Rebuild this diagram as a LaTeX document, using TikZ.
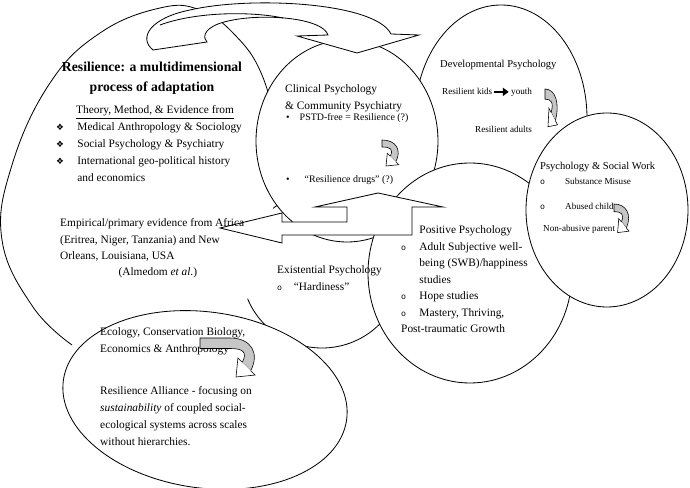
\documentclass[tikz,border=0pt]{standalone}
\usepackage{fontspec}
\setmainfont{Liberation Serif}
\newfontfamily\symfont{DejaVu Sans}
\newfontfamily\monofont{Liberation Mono}
\usepackage{tikz}
\usetikzlibrary{arrows.meta}
\newcommand{\fourdia}{{\symfont\fontsize{7.5}{7.5}\selectfont ❖}}
\newcommand{\ringbul}{{\monofont\fontsize{7}{7}\selectfont o}}
\tikzset{
  blob/.style={
    draw=black,
    line width=0.7pt,
    fill=white
  },
  rim/.style={
    draw=black, line width=0.7pt
  },
  bigarrow/.style={
    draw=black, line width=0.7pt, fill=white,
    line join=miter
  },
  body/.style={
    font=\fontsize{9.7}{14.5}\selectfont,
    inner sep=0pt, anchor=base west
  },
  head/.style={
    font=\fontsize{9}{12}\selectfont,
    inner sep=0pt, anchor=base west
  },
  small/.style={
    font=\fontsize{7.8}{10}\selectfont,
    inner sep=0pt, anchor=base west
  },
  kidarrow/.style={
    -{Triangle[length=5pt,width=7pt]},
    line width=1.8pt,
    shorten <=1.5pt, shorten >=2pt
  },
  pics/turn arrow/.style={code={
    \filldraw[fill=gray!45, line width=0.5pt] (-#1,0) -- (0,0)
      .. controls (14,0) and (20,10) .. (13.8,21.8) -- (8.2,16.2)
      .. controls (12,9) and (8,7) .. (0,7) -- (-#1,7) -- cycle;
    \filldraw[fill=white, line width=0.5pt] (13.8,21.8) -- (16.7,24.7)
      -- (4,26) -- (5.3,13.3) -- (8.2,16.2);
  }}
}

\begin{document}
\begin{tikzpicture}[x=0.03cm, y=-0.03cm]
  \useasboundingbox (0,0) rectangle (690,488);

  % Existential balloon (behind the rest)
  \draw[blob] (322,270) ellipse [x radius=80, y radius=78];

  % Outer balloon: white body, outline only where it shows
  \fill[white] plot[smooth cycle, tension=0.7] coordinates {
    (2,240) (12,165) (50,83) (100,33) (160,8) (200,10) (235,35)
    (262,75) (280,140) (272,215) (262,262) (248,298) (205,345) (130,370)
    (72,345) (33,307)};
  \draw[rim] plot[smooth, tension=0.7] coordinates {
    (72,345) (33,307) (2,240) (12,165) (50,83) (100,33) (160,8)
    (200,10) (235,35) (262,75) (280,140)};

  % Balloons
  \draw[blob] (501,118) ellipse [x radius=86, y radius=113];
  \draw[blob] (347,141) ellipse [x radius=91, y radius=101];
  \draw[blob] (470,273) ellipse [x radius=102, y radius=110];
  \draw[blob] (607,210) ellipse [x radius=81, y radius=97];
  \draw[blob, rotate around={-8:(205,400)}] (205,400) ellipse [x radius=143, y radius=88];

  % Curved arrow on top
  \draw[bigarrow] (153,50) .. controls (138,38) and (150,18) .. (190,10)
    .. controls (250,-4) and (375,2) .. (391,34) -- (419,35) -- (357,53)
    -- (297,36) -- (328,35) .. controls (322,16) and (250,12) .. (218,24)
    .. controls (203,30) and (203,38) .. (207,42) -- cycle;
  \draw[rim] (160,25) .. controls (195,12) and (250,11) .. (283,18);

  % Left and up arrow
  \draw[bigarrow] (220,228) -- (282,213) -- (282,222) -- (347,222)
    -- (347,207) -- (315,207) -- (378,193) -- (443,207) -- (412,207)
    -- (412,235) -- (282,235) -- (282,243) -- cycle;

  % Resilience text
  \node[font=\fontsize{11.7}{16.4}\selectfont\bfseries, inner sep=0pt, anchor=base]
    (title) at (152,72) {\begin{tabular}[t]{@{}c@{}}Resilience: a multidimensional\\process of adaptation\end{tabular}};
  \node[body, anchor=base] (theory) at (155,114) {\underline{Theory, Method, \& Evidence from}};
  \node[body] (fields) at (56,131) {\begin{tabular}[t]{@{}l@{\hspace{0.4cm}}l@{}}
    \fourdia & Medical Anthropology \& Sociology\\
    \fourdia & Social Psychology \& Psychiatry\\
    \fourdia & International geo-political history\\
    & and economics\end{tabular}};
  \node[body, font=\fontsize{9.7}{13.9}\selectfont] (evidence) at (60,227) {\begin{tabular}[t]{@{}l@{}}
    Empirical/primary evidence from Africa\\
    (Eritrea, Niger, Tanzania) and New\\
    Orleans, Louisiana, USA\\
    \hspace{1.75cm}(Almedom \textit{et al.})\end{tabular}};

  % Clinical
  \node[body] (clinical) at (285,93) {\begin{tabular}[t]{@{}l@{}}Clinical Psychology\\\& Community Psychiatry\end{tabular}};
  \node[small, font=\fontsize{8.5}{10}\selectfont] (pstd) at (286,121) {•\hspace{0.3cm}PSTD-free = Resilience (?)};
  \node[small, font=\fontsize{8.5}{10}\selectfont] (drugs) at (286,183) {•\hspace{0.45cm}“Resilience drugs” (?)};
  \pic at (382,140) {turn arrow=0};

  % Developmental
  \node[head] (dev) at (440,68) {Developmental Psychology};
  \node[small] (kids) at (442,95) {Resilient kids};
  \node[small] (youth) at (511,95) {youth};
  \draw[kidarrow] (kids.east) -- (kids.east -| youth.west);
  \node[small] (adults) at (475,133) {Resilient adults};
  \pic[xscale=0.75, yscale=1.45] at (545,89) {turn arrow=0};

  % Social work
  \node[head] (social) at (540,170) {Psychology \& Social Work};
  \node[small] (misuse) at (540,185) {\ringbul\hspace{0.6cm}Substance Misuse};
  \node[small] (abused) at (540,210) {\ringbul\hspace{0.6cm}Abused child};
  \node[small] (parent) at (543,232) {Non-abusive parent};
  \pic[xscale=0.9, yscale=1.1] at (614,204) {turn arrow=0};

  % Positive
  \node[body, font=\fontsize{9.7}{14}\selectfont] (positive) at (401,234) {\begin{tabular}[t]{@{}l@{\hspace{0.4cm}}l@{}}
    & Positive Psychology\\
    \ringbul & Adult Subjective well-\\
    & being (SWB)/happiness\\
    & studies\\
    \ringbul & Hope studies\\
    \ringbul & Mastery, Thriving,\\
    \multicolumn{2}{@{}l@{}}{Post-traumatic Growth}\end{tabular}};

  % Existential
  \node[body] (existential) at (277,274) {\begin{tabular}[t]{@{}l@{}}Existential Psychology\\\ringbul\hspace{0.35cm}“Hardiness”\end{tabular}};

  % Ecology
  \node[body] (ecology) at (100,336) {\begin{tabular}[t]{@{}l@{}}Ecology, Conservation Biology,\\Economics \& Anthropology\end{tabular}};
  \node[body] (alliance) at (100,395) {\begin{tabular}[t]{@{}l@{}}Resilience Alliance - focusing on\\\textit{sustainability} of coupled social-\\ecological systems across scales\\without hierarchies.\end{tabular}};
  \pic[scale=1.5] at (230,338) {turn arrow=20};
\end{tikzpicture}
\end{document}
